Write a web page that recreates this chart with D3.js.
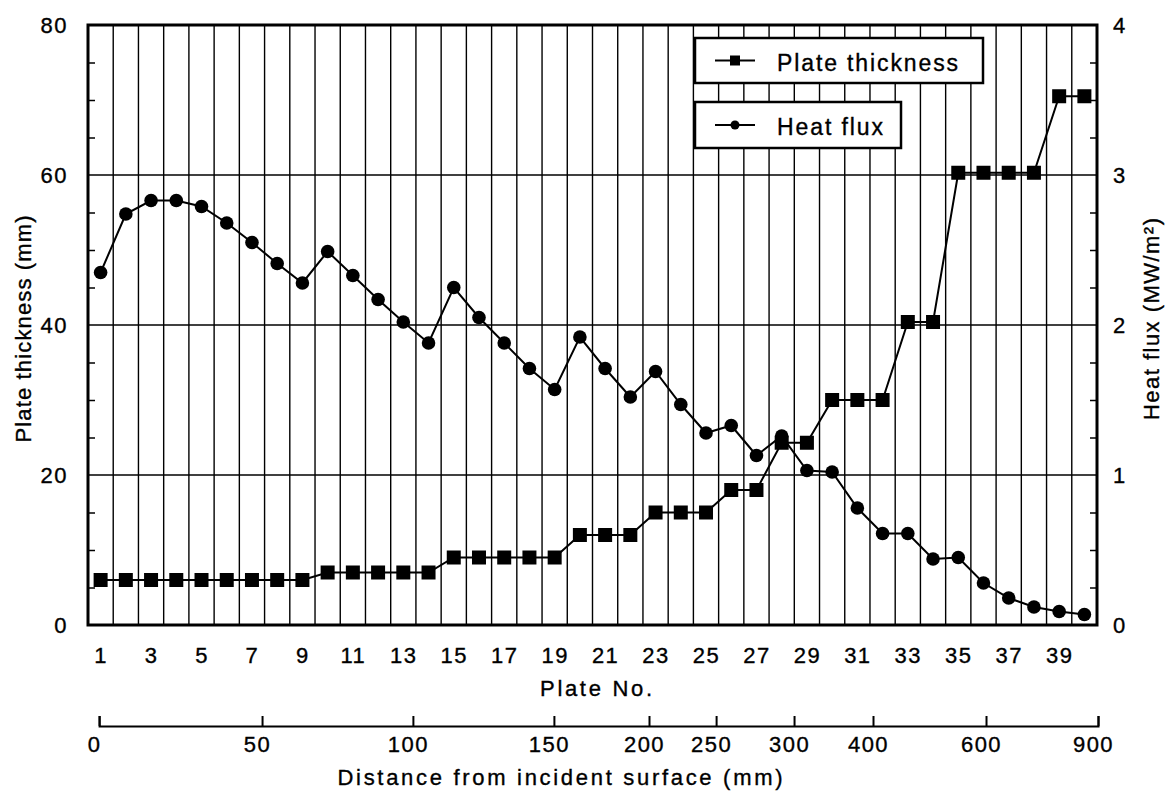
<!DOCTYPE html>
<html>
<head>
<script src="https://cdnjs.cloudflare.com/ajax/libs/d3/7.8.5/d3.min.js"></script>
<style>
	body { margin: 0; background: #fff; }
	svg { display: block; font-family: "Liberation Sans", Arial, sans-serif; }
	svg text { fill: #000; stroke: #000; stroke-width: 0.35px; }
	.axis text { font-size: 22px; letter-spacing: 1.5px; }
</style>
</head>
<body>
<div id="container"></div>
<script>
	// data
	const plateNo = [1,2,3,4,5,6,7,8,9,10,11,12,13,14,15,16,17,18,19,20,
		21,22,23,24,25,26,27,28,29,30,31,32,33,34,35,36,37,38,39,40];
	const plateThickness = [6,6,6,6,6,6,6,6,6, 7,7,7,7,7, 9,9,9,9,9, 12,12,12, 15,15,15,
		18,18, 24.3,24.3, 30,30,30, 40.4,40.4, 60.3,60.3,60.3,60.3, 70.5,70.5];
	const heatFlux = [2.35,2.74,2.83,2.83,2.79,2.68,2.55,2.41,2.28,2.49,2.33,2.17,2.02,1.88,
		2.25,2.05,1.88,1.71,1.57,1.92,1.71,1.52,1.69,1.47,1.28,1.33,1.13,1.26,1.03,1.02,
		0.78,0.61,0.61,0.44,0.45,0.28,0.18,0.12,0.09,0.07];
	const plateTicks = [1,3,5,7,9,11,13,15,17,19,21,23,25,27,29,31,33,35,37,39];
	const thickTicks = [0,20,40,60,80];
	const fluxTicks = [0,1,2,3,4];
	const distTicks = [0,50,100,150,200,250,300,400,600,900];
	// where each distance tick falls on the plate-number axis
	const distAtPlate = [0.94,7.4,13.38,18.97,22.74,25.4,28.49,31.62,36.1,40.54];

	const width = 1168, height = 792;
	const mLeft = 88, mRight = 1097, mTop = 25, mBottom = 625;

	const svg = d3.select("#container").append("svg").attr("width", width).attr("height", height);

	const x = d3.scaleLinear().domain([0.5, 40.5]).range([mLeft, mRight]);
	const yT = d3.scaleLinear().domain([0, 80]).range([mBottom, mTop]);
	const yF = d3.scaleLinear().domain([0, 4]).range([mBottom, mTop]);
	const xD = d3.scaleLinear().domain(distTicks).range(distAtPlate.map(x));

	/*************** grid ***************/
	const grid = svg.append("g").attr("stroke", "#000").attr("stroke-width", 1.4);
	grid.selectAll("line.v").data(plateNo.slice(0, -1)).enter().append("line")
		.attr("x1", d => x(d + 0.5)).attr("x2", d => x(d + 0.5))
		.attr("y1", mTop).attr("y2", mBottom);
	grid.selectAll("line.h").data(thickTicks.slice(1, -1)).enter().append("line")
		.attr("x1", mLeft).attr("x2", mRight)
		.attr("y1", d => yT(d)).attr("y2", d => yT(d));

	// minor inward ticks
	const minorT = d3.range(0, 80, 5).filter(d => d % 20 != 0);
	const minorF = d3.range(0, 4, 0.25).filter(d => d % 1 != 0);
	svg.append("g").attr("transform", `translate(${mLeft},0)`)
		.call(d3.axisRight(yT).tickValues(minorT).tickSize(7).tickFormat(""))
		.call(g => g.select(".domain").remove())
		.selectAll("line").attr("stroke-width", 1.5);
	svg.append("g").attr("transform", `translate(${mRight},0)`)
		.call(d3.axisLeft(yF).tickValues(minorF).tickSize(7).tickFormat(""))
		.call(g => g.select(".domain").remove())
		.selectAll("line").attr("stroke-width", 1.5);

	// frame
	svg.append("rect").attr("x", mLeft).attr("y", mTop)
		.attr("width", mRight - mLeft).attr("height", mBottom - mTop)
		.attr("fill", "none").attr("stroke", "#000").attr("stroke-width", 3);

	/*************** axes labels ***************/
	svg.append("g").attr("class", "axis").attr("transform", `translate(${mLeft},0)`)
		.call(d3.axisLeft(yT).tickValues(thickTicks).tickSize(0).tickPadding(20))
		.call(g => g.select(".domain").remove());
	svg.append("g").attr("class", "axis").attr("transform", `translate(${mRight},0)`)
		.call(d3.axisRight(yF).tickValues(fluxTicks).tickSize(0).tickPadding(16).tickFormat(d3.format("d")))
		.call(g => g.select(".domain").remove());
	svg.append("g").attr("class", "axis").attr("transform", `translate(0,${mBottom})`)
		.call(d3.axisBottom(x).tickValues(plateTicks).tickSize(0).tickPadding(22))
		.call(g => g.select(".domain").remove());

	// distance axis
	const dAxis = svg.append("g").attr("class", "axis").attr("transform", "translate(0,726)")
		.call(d3.axisBottom(xD).tickValues(distTicks).tickSize(-10).tickPadding(10));
	dAxis.selectAll("line, path").attr("stroke-width", 2);
	dAxis.selectAll("text").attr("dx", -5);

	const title = (txt, tx, ty, len, rot) => svg.append("text")
		.attr("transform", `translate(${tx},${ty})` + (rot ? " rotate(-90)" : ""))
		.attr("text-anchor", "middle").attr("dominant-baseline", "central")
		.attr("font-size", 22).attr("textLength", len).attr("lengthAdjust", "spacing")
		.text(txt);

	title("Plate No.", 596, 688, 112);
	title("Distance from incident surface (mm)", 560, 777, 445);
	title("Plate thickness (mm)", 23, 329, 227, true);
	title("Heat flux (MW/m²)", 1151, 319, 202, true);

	/*************** series ***************/
	const line = d3.line().x((d, i) => x(plateNo[i]));

	svg.append("path").datum(plateThickness)
		.attr("d", line.y(d => yT(d)))
		.attr("fill", "none").attr("stroke", "#000").attr("stroke-width", 2);
	svg.append("g").selectAll("rect").data(plateThickness).enter().append("rect")
		.attr("x", (d, i) => x(plateNo[i]) - 7).attr("y", d => yT(d) - 7)
		.attr("width", 14).attr("height", 14).attr("fill", "#000");

	svg.append("path").datum(heatFlux)
		.attr("d", line.y(d => yF(d)))
		.attr("fill", "none").attr("stroke", "#000").attr("stroke-width", 2);
	svg.append("g").selectAll("circle").data(heatFlux).enter().append("circle")
		.attr("cx", (d, i) => x(plateNo[i])).attr("cy", d => yF(d))
		.attr("r", 6.8).attr("fill", "#000");

	/*************** legend ***************/
	const legend = [
		{name: "Plate thickness", shape: "square", y: 38, w: 288, h: 45, len: 181},
		{name: "Heat flux", shape: "circle", y: 102, w: 206, h: 46, len: 106}
	];
	const lg = svg.append("g").selectAll("g").data(legend).enter().append("g")
		.attr("transform", d => `translate(695,${d.y})`);
	lg.append("rect").attr("width", d => d.w).attr("height", d => d.h)
		.attr("fill", "#fff").attr("stroke", "#000").attr("stroke-width", 2.5);
	lg.append("line").attr("x1", 20).attr("x2", 60)
		.attr("y1", d => d.h / 2).attr("y2", d => d.h / 2)
		.attr("stroke", "#000").attr("stroke-width", 2);
	lg.filter(d => d.shape == "square").append("rect")
		.attr("x", 35).attr("y", d => d.h / 2 - 5).attr("width", 10).attr("height", 10);
	lg.filter(d => d.shape == "circle").append("circle")
		.attr("cx", 40).attr("cy", d => d.h / 2).attr("r", 4.5);
	lg.append("text").attr("x", 82).attr("y", d => d.h / 2 + 2)
		.attr("dominant-baseline", "central").attr("font-size", 23)
		.attr("textLength", d => d.len).attr("lengthAdjust", "spacing")
		.text(d => d.name);
</script>
</body>
</html>
